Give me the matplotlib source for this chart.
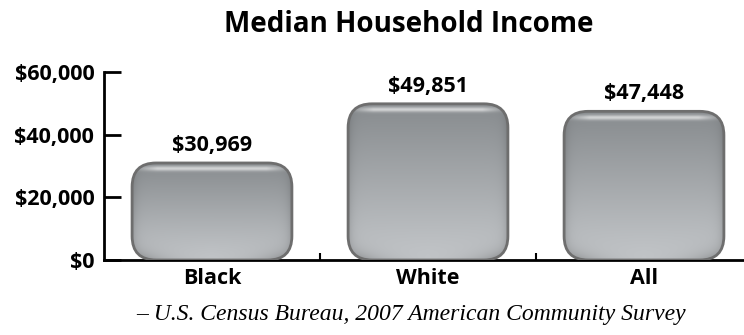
import matplotlib
matplotlib.use("Agg")
import matplotlib.pyplot as plt
import numpy as np
from matplotlib.patches import FancyBboxPatch
from matplotlib.ticker import FuncFormatter

categories = ["Black", "White", "All"]
incomes = [30969, 49851, 47448]
y_ticks = [0, 20000, 40000, 60000]

plt.rcParams['font.family'] = ['Open Sans', 'DejaVu Sans']

W, H, DPI = 744, 335, 100
fig = plt.figure(figsize=(W / DPI, H / DPI), dpi=DPI)
ax = fig.add_axes([104 / W, 75 / H, 640 / W, 188 / H])

x = np.arange(len(categories))
bar_w = 0.74
ax.set_xlim(-0.5, -0.5 + 640 / 216)
ax.set_ylim(0, 60000)

# pixel scale of the data units
px_x = 640 / (ax.get_xlim()[1] - ax.get_xlim()[0])
px_y = 188 / 60000
radius_px = 24
r_x = radius_px / px_x
aspect = (radius_px / px_y) / r_x

top_col = np.array([135, 139, 142]) / 255
bot_col = np.array([196, 199, 202]) / 255


def bar_image(h_px, w_px):
    yy = np.linspace(0, 1, h_px)[:, None]  # 0 bottom, 1 top
    xx = np.linspace(0, 1, w_px)[None, :]
    base = bot_col[None, None, :] * (1 - yy[..., None]) + top_col[None, None, :] * yy[..., None]
    img = np.repeat(base, w_px, axis=1)
    dx = np.minimum(xx, 1 - xx) * w_px
    dtop = (1 - yy) * h_px
    dbot = yy * h_px
    # highlight band under the top edge
    band = np.exp(-((dtop - 6) / 2.5) ** 2) * 0.6
    band = band * np.clip(dx / 25, 0.3, 1)
    img = img + (1 - img) * band[..., None]
    # slight darker sides, shadow in the bottom corners
    side = np.exp(-dx / 4.0) * 0.15
    corner = np.exp(-dbot / 8.0) * np.exp(-dx / 25.0) * 0.45
    img = img * (1 - side[..., None]) * (1 - corner[..., None])
    return np.clip(img, 0, 1)


for xi, val in zip(x, incomes):
    x0 = xi - bar_w / 2
    patch = FancyBboxPatch((x0, 0), bar_w, val,
                           boxstyle=f"round,pad=0,rounding_size={r_x}",
                           mutation_aspect=aspect,
                           fc="none", ec="#6e6e6e", lw=2, zorder=3)
    ax.add_patch(patch)
    img = bar_image(int(val * px_y), int(bar_w * px_x))
    im = ax.imshow(img, extent=[x0, x0 + bar_w, 0, val], origin="lower",
                   aspect="auto", zorder=2.8, interpolation="bilinear")
    im.set_clip_path(patch)
    ax.annotate(f"${val:,}", (xi, val), xytext=(0, 5), textcoords="offset points",
                ha="center", va="bottom", fontsize=15.5, fontweight="bold")

ax.set_aspect("auto")
ax.set_xlim(-0.5, -0.5 + 640 / 216)
ax.set_ylim(0, 60000)

for s in ["top", "right"]:
    ax.spines[s].set_visible(False)
ax.spines["left"].set_linewidth(2)
ax.spines["bottom"].set_linewidth(2)
ax.spines["left"].set_bounds(0, 60000)

ax.set_yticks(y_ticks)
ax.yaxis.set_major_formatter(FuncFormatter(lambda v, p: f"${int(v):,}"))
ax.tick_params(axis="y", direction="in", length=12, width=2, pad=7,
               labelsize=15.5)
for lab in ax.get_yticklabels():
    lab.set_fontweight("bold")

ax.set_xticks(x)
ax.set_xticklabels(categories, fontsize=15.5, fontweight="bold")
ax.tick_params(axis="x", length=0, pad=6)
ax.set_xticks([0.5, 1.5], minor=True)
ax.tick_params(axis="x", which="minor", direction="in", length=5, width=1.5)

fig.text(0.55, 0.928, "Median Household Income", ha="center", va="center",
         fontsize=20, fontweight="bold")
fig.text(0.553, 0.062, "– U.S. Census Bureau, 2007 American Community Survey",
         ha="center", va="center", fontsize=17, style="italic",
         family=["Liberation Serif", "DejaVu Serif"])

fig.savefig("out.png", dpi=DPI)
